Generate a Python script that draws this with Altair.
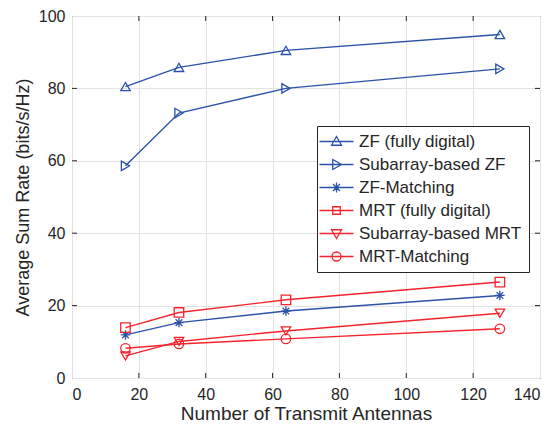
import altair as alt
import pandas as pd

antennas = [16, 32, 64, 128]
series_names = ["ZF (fully digital)", "Subarray-based ZF", "ZF-Matching",
                "MRT (fully digital)", "Subarray-based MRT", "MRT-Matching"]
zf_full = [80.5, 85.8, 90.5, 94.9]
zf_sub = [58.6, 73.2, 80.0, 85.4]
zf_match = [11.9, 15.3, 18.5, 22.8]
mrt_full = [13.9, 18.1, 21.6, 26.5]
mrt_sub = [6.1, 10.1, 13.0, 17.9]
mrt_match = [8.2, 9.4, 10.8, 13.6]
all_values = [zf_full, zf_sub, zf_match, mrt_full, mrt_sub, mrt_match]

x_ticks = [0, 20, 40, 60, 80, 100, 120, 140]
y_ticks = [0, 20, 40, 60, 80, 100]

BLUE = "#2A52A8"
RED = "#F5232B"
colors = [BLUE, BLUE, BLUE, RED, RED, RED]

star = "M0,-1L0,1M-1,0L1,0M-0.7,-0.7L0.7,0.7M-0.7,0.7L0.7,-0.7"
tri_up = "M0,-1L1,0.75L-1,0.75Z"
tri_right = "M-0.75,-1L1,0L-0.75,1Z"
square = "M-0.75,-0.75L0.75,-0.75L0.75,0.75L-0.75,0.75Z"
tri_down = "M-1,-0.75L1,-0.75L0,1Z"
circle = "M0.9,0A0.9,0.9,0,1,1,-0.9,0A0.9,0.9,0,1,1,0.9,0Z"
marker_paths = [tri_up, tri_right, star, square, tri_down, circle]
plot_shapes = ["triangle-up", "triangle-right", star, "square", "triangle-down", "circle"]
line_seg = "M-3.4,0L3.4,0"
legend_shapes = [line_seg + p for p in marker_paths]

rows = []
for name, vals in zip(series_names, all_values):
    for a, v in zip(antennas, vals):
        rows.append({"series": name, "N": a, "rate": v})
df = pd.DataFrame(rows)

W, H = 468, 362
FONT = "Liberation Sans"
TXT = "#262626"

xs = alt.Scale(domain=[0, 140], nice=False)
ys = alt.Scale(domain=[0, 100], nice=False)
cs = alt.Scale(domain=series_names, range=colors)

x_enc = alt.X("N:Q", scale=xs, title="Number of Transmit Antennas",
              axis=alt.Axis(values=x_ticks, ticks=False, domain=False, grid=True,
                            gridColor="#e3e3e3", labelFontSize=16, labelColor=TXT,
                            labelPadding=8, titleFontSize=19, titleColor=TXT,
                            titleFontWeight="normal", titlePadding=2, labelFont=FONT,
                            titleFont=FONT))
y_enc = alt.Y("rate:Q", scale=ys, title="Average Sum Rate (bits/s/Hz)",
              axis=alt.Axis(values=y_ticks, ticks=False, domain=False, grid=True,
                            gridColor="#e3e3e3", labelFontSize=16, labelColor=TXT,
                            labelPadding=7, titleFontSize=18, titleColor=TXT,
                            titleFontWeight="normal", titlePadding=6, labelFont=FONT,
                            titleFont=FONT))

lines = alt.Chart(df).mark_line(strokeWidth=1.4).encode(
    x=x_enc, y=y_enc,
    color=alt.Color("series:N", scale=cs, legend=None),
    detail="series:N",
)

points = alt.Chart(df).mark_point(filled=False, size=90, strokeWidth=1.3, opacity=1).encode(
    x=alt.X("N:Q", scale=xs), y=alt.Y("rate:Q", scale=ys),
    color=alt.Color("series:N", scale=cs, legend=None),
    shape=alt.Shape("series:N", scale=alt.Scale(domain=series_names, range=plot_shapes), legend=None),
)

leg = alt.Legend(title=None, orient="none", legendX=245, legendY=110,
                 padding=7, symbolOffset=4, labelOffset=14,
                 rowPadding=5, labelFontSize=17, labelFont=FONT,
                 labelColor=TXT, strokeColor=TXT, fillColor="white",
                 symbolSize=100, symbolStrokeWidth=1.3,
                 symbolOpacity=1, symbolFillColor="transparent",
                 labelLimit=300)

legend_layer = alt.Chart(df).mark_point(filled=False, size=100, opacity=0).encode(
    x=alt.X("N:Q", scale=xs), y=alt.Y("rate:Q", scale=ys),
    color=alt.Color("series:N", scale=alt.Scale(domain=series_names, range=colors), legend=leg),
    shape=alt.Shape("series:N", scale=alt.Scale(domain=series_names, range=legend_shapes), legend=leg),
)

xt = pd.DataFrame({"t": x_ticks[1:-1]})
yt = pd.DataFrame({"t": y_ticks[1:-1]})
tick_style = dict(color=TXT, strokeWidth=1)
tb = alt.Chart(xt).mark_rule(**tick_style).encode(x=alt.X("t:Q", scale=xs), y=alt.value(H), y2=alt.value(H - 5))
tt = alt.Chart(xt).mark_rule(**tick_style).encode(x=alt.X("t:Q", scale=xs), y=alt.value(0), y2=alt.value(5))
tl = alt.Chart(yt).mark_rule(**tick_style).encode(y=alt.Y("t:Q", scale=ys), x=alt.value(0), x2=alt.value(5))
tr = alt.Chart(yt).mark_rule(**tick_style).encode(y=alt.Y("t:Q", scale=ys), x=alt.value(W), x2=alt.value(W - 5))

chart = alt.layer(tb, tt, tl, tr, lines, points, legend_layer).resolve_scale(
    shape="independent", color="independent"
).properties(
    width=W, height=H,
    autosize=alt.AutoSizeParams(type="none"),
    padding={"left": 64, "top": 8, "right": 10, "bottom": 44},
    background="white",
).configure_view(stroke=TXT, strokeWidth=1)

chart.save("out.html", embed_options={"renderer": "svg", "actions": False})
